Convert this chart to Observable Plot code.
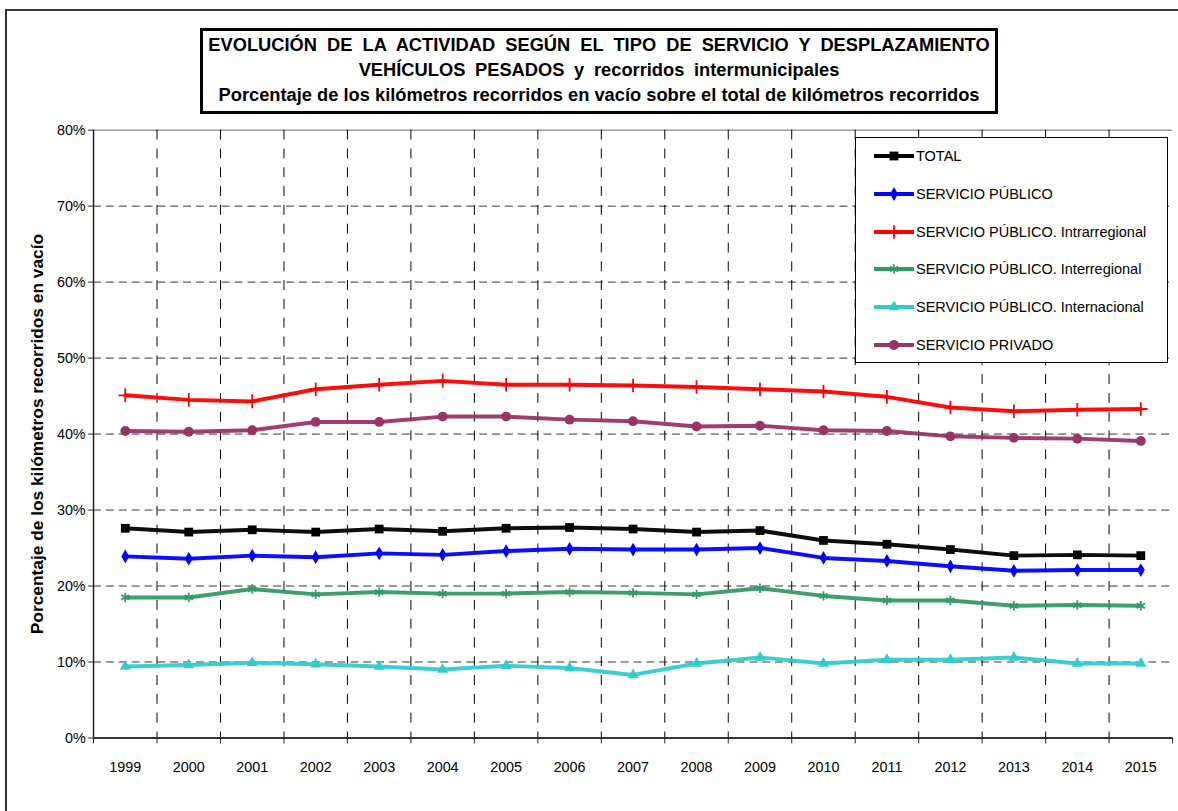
<!DOCTYPE html>
<html><head><meta charset="utf-8">
<script src="https://cdn.jsdelivr.net/npm/d3@7"></script>
<script src="https://cdn.jsdelivr.net/npm/@observablehq/plot@0.6"></script>
<style>
html,body{margin:0;padding:0;overflow:hidden;background:#fff;font-family:"Liberation Sans",Arial,sans-serif;}
#wrap{position:relative;width:1178px;height:811px;overflow:hidden;background:#fff;}
#border{position:absolute;left:5px;top:9px;width:1300px;height:900px;border:2px solid #333;box-sizing:border-box;}
#chart{position:absolute;left:0;top:0;}
#title{position:absolute;left:200px;top:28px;width:798px;height:86px;border:3px solid #000;box-sizing:border-box;background:#fff;
  font-weight:bold;font-size:18.3px;text-align:center;line-height:25px;padding-top:1px;color:#000;white-space:nowrap;}
#title .w1{word-spacing:5px;}
#title .w2{word-spacing:4.6px;}
#legend{position:absolute;left:855px;top:137px;width:313px;height:226px;border:1px solid #000;background:#fff;box-sizing:border-box;}
.row{position:absolute;left:18px;height:16px;display:flex;align-items:center;font-size:14.5px;color:#000;white-space:nowrap;}
.row svg{margin-right:2px;flex:none;}
</style>
</head><body>
<div id="wrap">
  <div id="border"></div>
  <div id="chart"></div>
  <div id="title">
    <div class="w1">EVOLUCIÓN DE LA ACTIVIDAD SEGÚN EL TIPO DE SERVICIO Y DESPLAZAMIENTO</div>
    <div class="w2">VEHÍCULOS PESADOS y recorridos intermunicipales</div>
    <div>Porcentaje de los kilómetros recorridos en vacío sobre el total de kilómetros recorridos</div>
  </div>
  <div id="legend"></div>
</div>
<script>
// ---- data ----
const years = [1999,2000,2001,2002,2003,2004,2005,2006,2007,2008,2009,2010,2011,2012,2013,2014,2015];
const total          = [27.6,27.1,27.4,27.1,27.5,27.2,27.6,27.7,27.5,27.1,27.3,26.0,25.5,24.8,24.0,24.1,24.0];
const servicioPublico= [23.9,23.6,24.0,23.8,24.3,24.1,24.6,24.9,24.8,24.8,25.0,23.7,23.3,22.6,22.0,22.1,22.1];
const intrarregional = [45.1,44.5,44.3,45.9,46.5,47.0,46.5,46.5,46.4,46.2,45.9,45.6,44.9,43.5,43.0,43.2,43.3];
const interregional  = [18.5,18.5,19.6,18.9,19.2,19.0,19.0,19.2,19.1,18.9,19.7,18.7,18.1,18.1,17.4,17.5,17.4];
const internacional  = [9.4,9.6,9.9,9.7,9.4,9.0,9.5,9.2,8.3,9.8,10.6,9.8,10.3,10.3,10.6,9.8,9.8];
const privado        = [40.4,40.3,40.5,41.6,41.6,42.3,42.3,41.9,41.7,41.0,41.1,40.5,40.4,39.7,39.5,39.4,39.1];
const seriesNames = ["TOTAL","SERVICIO PÚBLICO","SERVICIO PÚBLICO. Intrarregional","SERVICIO PÚBLICO. Interregional","SERVICIO PÚBLICO. Internacional","SERVICIO PRIVADO"];
const seriesValues = [total, servicioPublico, intrarregional, interregional, internacional, privado];
const yTicks = [0,0.1,0.2,0.3,0.4,0.5,0.6,0.7,0.8];
const yTitle = "Porcentaje de los kilómetros recorridos en vacío";

// ---- styles ----
const colors = ["#000000","#0000ff","#ff0000","#339966","#33cccc","#993366"];
const symbols = ["square","diamond","plus","asterisk","triangle","circle"];
const symR = [5,4.2,4.5,4.5,4.2,5];
const symFilled = [true,true,false,false,true,true];

const rows = seriesNames.flatMap((name,i)=> years.map((y,j)=>({year:y, value:seriesValues[i][j]/100, series:name})));
const boundaries = [years[0]-0.5, ...years.map(y=>y+0.5)];

const marks = [
  Plot.ruleY(yTicks.slice(1,-1), {stroke:"#333", strokeDasharray:"8,5", strokeWidth:1}),
  Plot.ruleY([yTicks[yTicks.length-1]], {stroke:"#999", strokeWidth:1.5}),
  Plot.ruleX(boundaries.slice(1,-1), {stroke:"#000", strokeDasharray:"10,9", strokeWidth:1}),
];
seriesNames.forEach((name,i)=>{
  const d = rows.filter(r=>r.series===name);
  marks.push(Plot.line(d, {x:"year", y:"value", stroke:colors[i], strokeWidth:4, strokeOpacity:0.95}));
  marks.push(Plot.dot(d, symFilled[i]
    ? {x:"year", y:"value", symbol:()=>symbols[i], r:symR[i], fill:colors[i], stroke:null}
    : {x:"year", y:"value", symbol:()=>symbols[i], r:symR[i], stroke:colors[i], strokeWidth:1.8, fill:null}));
});
marks.push(
  Plot.ruleX([boundaries[0]], {stroke:"#222", strokeWidth:1.5}),
  Plot.ruleY([0], {stroke:"#333", strokeWidth:2}),
  Plot.axisY({ticks:yTicks, tickFormat:d3.format(".0%"), tickSize:5, tickPadding:3, fontSize:14.5, label:null, stroke:"#222"}),
  Plot.axisX({ticks:boundaries, tickFormat:()=>"", tickSize:6, label:null, stroke:"#222"}),
  Plot.axisX({ticks:years, tickFormat:d=>String(d), tickSize:0, tickPadding:24, fontSize:14.5, label:null}),
  Plot.text([yTitle], {text:d=>d, frameAnchor:"left", textAnchor:"middle", dx:-57, rotate:-90, fontSize:17.5, fontWeight:"bold", fill:"#000"})
);

const chart = Plot.plot({
  width:1190, height:811,
  marginLeft:94, marginRight:6, marginTop:131, marginBottom:66,
  style:{fontFamily:"'Liberation Sans', Arial, sans-serif", fontSize:"14.5px", color:"#000", background:"transparent", overflow:"visible"},
  x:{type:"linear", domain:[boundaries[0], boundaries[boundaries.length-1]]},
  y:{type:"linear", domain:[0,0.8]},
  symbol:{type:"identity"},
  marks
});
document.getElementById("chart").appendChild(chart);

// ---- legend ----
const legend = document.getElementById("legend");
const symMap = {square:d3.symbolSquare, diamond:d3.symbolDiamond, plus:d3.symbolPlus, asterisk:d3.symbolAsterisk, triangle:d3.symbolTriangle, circle:d3.symbolCircle};
seriesNames.forEach((name,i)=>{
  const row = document.createElement("div");
  row.className="row";
  row.style.top = (10 + i*37.8) + "px";
  const svg = d3.create("svg").attr("width",40).attr("height",16);
  svg.append("line").attr("x1",1).attr("x2",39).attr("y1",8).attr("y2",8).attr("stroke",colors[i]).attr("stroke-width",4).attr("stroke-linecap","round");
  const p = svg.append("path").attr("transform","translate(20,8)")
    .attr("d", d3.symbol(symMap[symbols[i]], Math.PI*symR[i]*symR[i])());
  if (symFilled[i]) p.attr("fill",colors[i]); else p.attr("fill","none").attr("stroke",colors[i]).attr("stroke-width",1.8);
  row.appendChild(svg.node());
  const t = document.createElement("span"); t.textContent = name; row.appendChild(t);
  legend.appendChild(row);
});
</script>
</body></html>
